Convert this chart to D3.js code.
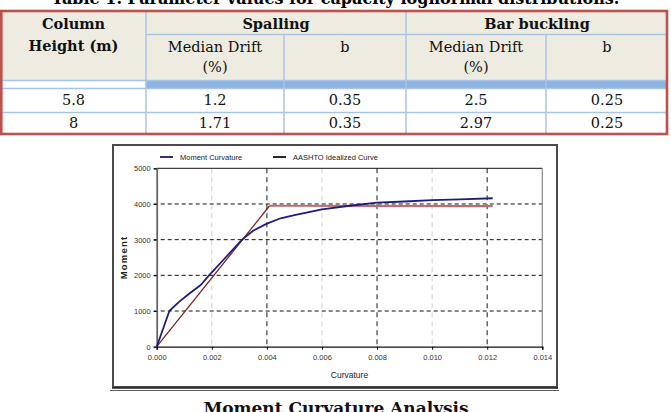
<!DOCTYPE html>
<html>
<head>
<meta charset="utf-8">
<script src="https://cdn.jsdelivr.net/npm/d3@7"></script>
<style>
  body { margin: 0; background: #fff; }
  svg { display: block; }
</style>
</head>
<body>
<div id="page"></div>
<script>
// ---- table data ----
const tableTitle = "Table 1.  Parameter values for capacity lognormal distributions.";
const tableGroups = ["Spalling", "Bar buckling"];
const tableSubHeaders = [["Median Drift", "(%)"], ["b"], ["Median Drift", "(%)"], ["b"]];
const tableRowLabels = ["5.8", "8"];
const tableValues = [
  ["1.2", "0.35", "2.5", "0.25"],
  ["1.71", "0.35", "2.97", "0.25"],
];

// ---- chart data ----
const xTicks = [0, 0.002, 0.004, 0.006, 0.008, 0.010, 0.012, 0.014];
const yTicks = [0, 1000, 2000, 3000, 4000, 5000];
const mcCurvature = [0, 0.00046, 0.0008, 0.0012, 0.0016, 0.0019, 0.0025, 0.0031, 0.0035, 0.004, 0.0045, 0.005, 0.006, 0.007, 0.008, 0.009, 0.010, 0.011, 0.0122];
const mcMoment    = [0, 1000, 1250, 1500, 1730, 2000, 2500, 3000, 3250, 3450, 3600, 3690, 3850, 3950, 4040, 4070, 4110, 4130, 4160];
const idealCurvature = [0, 0.0041, 0.0122];
const idealMoment    = [0, 3950, 3940];
const legendLabels = ["Moment Curvature", "AASHTO Idealized Curve"];
const caption = "Moment Curvature Analysis";

const W = 671, H = 412;
const svg = d3.select("#page").append("svg").attr("width", W).attr("height", H);

const serif = "'DejaVu Serif', serif";
const narrow = "'Liberation Sans Narrow', 'Liberation Sans', Arial, sans-serif";

// ---------------- table ----------------
const colX = [1, 146, 284, 406, 546, 668];
const rowY = { top: 11, groupBottom: 34, headBottom: 80, bandBottom: 88, row1Bottom: 112, bottom: 134 };
const beige = "#eeece1", blueLine = "#a9c5e6", blueBand = "#8db3e2", red = "#c0504d";

const table = svg.append("g").attr("class", "table");

// title is cropped at the top edge in the scan
svg.append("text")
  .attr("x", W / 2).attr("y", 4)
  .attr("text-anchor", "middle")
  .style("font-family", serif).style("font-weight", "bold").style("font-size", "16px")
  .text(tableTitle);

table.append("rect")
  .attr("x", colX[0]).attr("y", rowY.top)
  .attr("width", colX[5] - colX[0]).attr("height", rowY.headBottom - rowY.top)
  .attr("fill", beige);

table.append("rect")
  .attr("x", colX[1]).attr("y", rowY.headBottom + 1)
  .attr("width", colX[5] - colX[1]).attr("height", rowY.bandBottom - rowY.headBottom - 1)
  .attr("fill", blueBand);

// grid lines
const hLines = [
  [colX[1], colX[5], rowY.groupBottom],
  [colX[0], colX[5], rowY.headBottom],
  [colX[0], colX[5], rowY.bandBottom],
  [colX[0], colX[5], rowY.row1Bottom],
];
table.selectAll(".hl").data(hLines).join("line")
  .attr("x1", d => d[0]).attr("x2", d => d[1])
  .attr("y1", d => d[2] + 0.5).attr("y2", d => d[2] + 0.5)
  .attr("stroke", blueLine).attr("stroke-width", 1.5);

const vLines = [
  [colX[1], rowY.top, rowY.bottom],
  [colX[2], rowY.groupBottom, rowY.bottom],
  [colX[3], rowY.top, rowY.bottom],
  [colX[4], rowY.groupBottom, rowY.bottom],
];
table.selectAll(".vl").data(vLines).join("line")
  .attr("x1", d => d[0]).attr("x2", d => d[0])
  .attr("y1", d => d[1]).attr("y2", d => d[2])
  .attr("stroke", blueLine).attr("stroke-width", 1.5);

table.append("rect")
  .attr("x", 1.3).attr("y", rowY.top)
  .attr("width", 667 - 1.3).attr("height", rowY.bottom - rowY.top)
  .attr("fill", "none").attr("stroke", red).attr("stroke-width", 2.6);

const cellText = (x, y, t, bold) => table.append("text")
  .attr("x", x).attr("y", y)
  .attr("text-anchor", "middle").attr("dominant-baseline", "central")
  .style("font-family", serif).style("font-size", "14.5px")
  .style("font-weight", bold ? "bold" : "normal")
  .attr("fill", "#111")
  .text(t);

cellText((colX[0] + colX[1]) / 2, 23, "Column", true);
cellText((colX[0] + colX[1]) / 2, 45, "Height (m)", true);
tableGroups.forEach((g, i) => cellText((colX[1 + 2 * i] + colX[3 + 2 * i]) / 2, 23, g, true));
tableSubHeaders.forEach((lines, i) => {
  lines.forEach((t, j) => cellText((colX[1 + i] + colX[2 + i]) / 2, 47 + j * 20, t, false));
});
tableRowLabels.forEach((r, i) => {
  const cy = i === 0 ? 100 : 123;
  cellText((colX[0] + colX[1]) / 2, cy, r, false);
  tableValues[i].forEach((v, j) => cellText((colX[1 + j] + colX[2 + j]) / 2, cy, v, false));
});

// ---------------- chart ----------------
const frame = { x: 113, y: 145, w: 444, h: 242 };
svg.append("rect")
  .attr("x", frame.x).attr("y", frame.y).attr("width", frame.w).attr("height", frame.h)
  .attr("fill", "#fff").attr("stroke", "#4a4a4a").attr("stroke-width", 2);
svg.append("line")
  .attr("x1", frame.x - 1).attr("x2", frame.x + frame.w + 1)
  .attr("y1", frame.y + frame.h + 1).attr("y2", frame.y + frame.h + 1)
  .attr("stroke", "#222").attr("stroke-width", 1.5);
svg.append("line")
  .attr("x1", frame.x - 3).attr("x2", frame.x + frame.w + 2)
  .attr("y1", frame.y + frame.h + 3.5).attr("y2", frame.y + frame.h + 3.5)
  .attr("stroke", "#333").attr("stroke-width", 0.8);

const plot = { left: 156.7, right: 542.3, top: 168.3, bottom: 346.7 };
const x = d3.scaleLinear().domain([0, 0.014]).range([plot.left, plot.right]);
const y = d3.scaleLinear().domain([0, 5000]).range([plot.bottom, plot.top]);

const chart = svg.append("g").attr("class", "chart");

// vertical gridlines (alternating light / dark as in the scan)
chart.selectAll(".vgrid").data(xTicks.slice(1, -1)).join("line")
  .attr("x1", d => x(d)).attr("x2", d => x(d))
  .attr("y1", plot.top).attr("y2", plot.bottom)
  .attr("stroke", (d, i) => i % 2 === 0 ? "#cfcfcf" : "#5a5a5a")
  .attr("stroke-width", (d, i) => i % 2 === 0 ? 1 : 1.4)
  .attr("stroke-dasharray", "5,4");

// horizontal gridlines
chart.selectAll(".hgrid").data(yTicks.slice(1, -1)).join("line")
  .attr("x1", plot.left - 3).attr("x2", plot.right)
  .attr("y1", d => y(d)).attr("y2", d => y(d))
  .attr("stroke", "#111").attr("stroke-width", 1)
  .attr("stroke-dasharray", "4,3");

// plot border
chart.append("line").attr("x1", plot.left).attr("x2", plot.right)
  .attr("y1", plot.top).attr("y2", plot.top).attr("stroke", "#111").attr("stroke-width", 1);
chart.append("line").attr("x1", plot.right).attr("x2", plot.right)
  .attr("y1", plot.top).attr("y2", plot.bottom).attr("stroke", "#888").attr("stroke-width", 1.2);

// axes
const yAxis = d3.axisLeft(y).tickValues(yTicks).tickSize(3).tickFormat(d3.format("d"));
const xAxis = d3.axisBottom(x).tickValues(xTicks).tickSize(3).tickFormat(d3.format(".3f"));

const gy = chart.append("g").attr("transform", `translate(${plot.left},0)`).call(yAxis);
gy.select(".domain").attr("stroke", "#666").attr("stroke-width", 1.8);
gy.selectAll("text").style("font-family", narrow).style("font-size", "7.5px").attr("fill", "#333").attr("x", -6);

const gx = chart.append("g").attr("transform", `translate(0,${plot.bottom})`).call(xAxis);
gx.select(".domain").attr("stroke", "#111").attr("stroke-width", 1.3);
gx.selectAll("text").style("font-family", narrow).style("font-size", "7.5px").attr("fill", "#333").attr("y", 8);

// axis titles
chart.append("text")
  .attr("x", (plot.left + plot.right) / 2).attr("y", 378)
  .attr("text-anchor", "middle")
  .style("font-family", narrow).style("font-size", "8.5px").attr("fill", "#222")
  .text("Curvature");
chart.append("text")
  .attr("transform", `translate(127,${(plot.top + plot.bottom) / 2}) rotate(-90)`)
  .attr("text-anchor", "middle")
  .style("font-family", narrow).style("font-size", "9.5px").style("font-weight", "bold")
  .style("letter-spacing", "1.2px").attr("fill", "#222")
  .text("Moment");

// series
const line = d3.line().x(d => x(d[0])).y(d => y(d[1]));
const idealPts = idealCurvature.map((c, i) => [c, idealMoment[i]]);
const mcPts = mcCurvature.map((c, i) => [c, mcMoment[i]]);

chart.append("path").datum(idealPts.slice(1))
  .attr("d", line).attr("fill", "none").attr("stroke", "#c46a6a").attr("stroke-width", 2.2);
chart.append("path").datum(idealPts.slice(0, 2))
  .attr("d", line).attr("fill", "none").attr("stroke", "#7a2626").attr("stroke-width", 1.3);
chart.append("path").datum(mcPts)
  .attr("d", line).attr("fill", "none").attr("stroke", "#1d1d7e").attr("stroke-width", 1.8)
  .attr("stroke-linejoin", "round");

// legend
const legendX = [160, 273];
const legendColors = ["#1d1d5e", "#111"];
const legend = chart.selectAll(".legend").data(legendLabels).join("g")
  .attr("transform", (d, i) => `translate(${legendX[i]},157)`);
legend.append("line").attr("x1", 0).attr("x2", 13).attr("y1", 0).attr("y2", 0)
  .attr("stroke", (d, i) => legendColors[i]).attr("stroke-width", 1.8);
legend.append("text").attr("x", 20).attr("y", 0).attr("dominant-baseline", "central")
  .style("font-family", narrow).style("font-size", "7.5px").attr("fill", "#222")
  .text(d => d);

// caption (cropped at the bottom edge in the scan)
svg.append("text")
  .attr("x", 336).attr("y", 414)
  .attr("text-anchor", "middle")
  .style("font-family", serif).style("font-weight", "bold").style("font-size", "17px")
  .attr("fill", "#111")
  .text(caption);
</script>
</body>
</html>
